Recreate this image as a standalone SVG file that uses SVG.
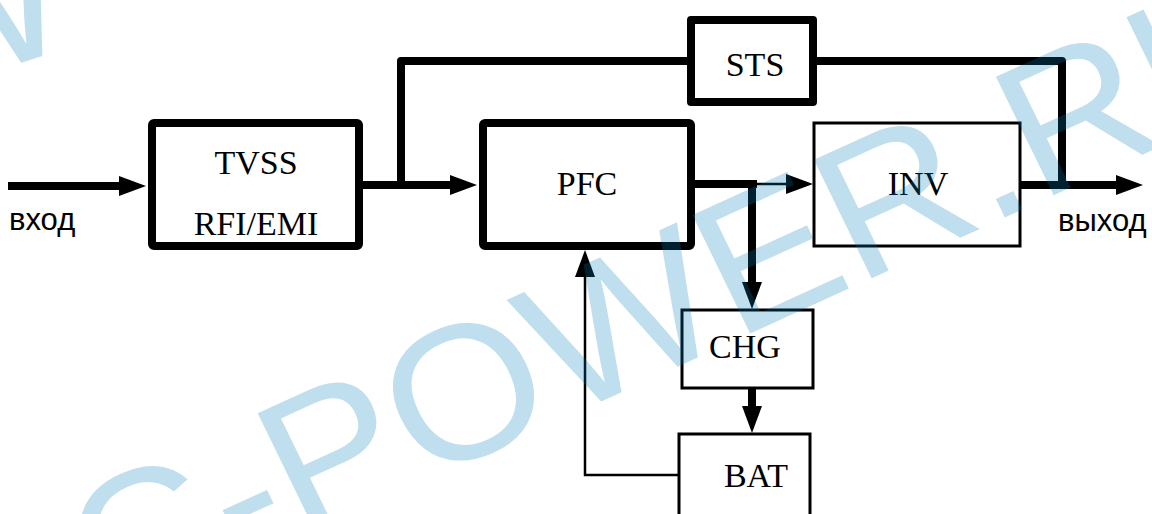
<svg xmlns="http://www.w3.org/2000/svg" width="1152" height="514" viewBox="0 0 1152 514">
  <style>
    .thick { fill: #ffffff; stroke: #000000; stroke-width: 8; stroke-linejoin: round; }
    .thin { fill: #ffffff; stroke: #000000; stroke-width: 3; }
    .lbl { font-family: "Liberation Serif", "Times New Roman", serif; font-size: 34px; fill: #000000; text-anchor: middle; }
    .io { font-family: "Liberation Sans", Arial, sans-serif; font-size: 31px; fill: #000000; }
    .w8 { fill: none; stroke: #000000; stroke-width: 8; stroke-linejoin: round; }
    .w2 { fill: none; stroke: #000000; stroke-width: 2.5; }
    .wm { font-family: "Liberation Sans", Arial, sans-serif; font-size: 200px; fill: #007dbc; fill-opacity: 0.25; }
  </style>
  <defs>
    <marker id="ah" markerUnits="userSpaceOnUse" markerWidth="27" markerHeight="20" refX="2" refY="10" orient="auto" overflow="visible">
      <path d="M0,0 L27,10 L0,20 Z" fill="#000000"/>
    </marker>
  </defs>
  <rect width="1152" height="514" fill="#ffffff"/>

  <g id="connectors">
    <path class="w8" d="M8,186 H121" marker-end="url(#ah)"/>
    <path class="w8" d="M363,185 H452" marker-end="url(#ah)"/>
    <path class="w8" d="M401,185 V61 H687"/>
    <path class="w8" d="M817,61 H1062 V186"/>
    <path class="w8" d="M695,184 H757"/>
    <path class="w2" d="M752,184 H788" marker-end="url(#ah)"/>
    <path class="w8" d="M752,180 V284" marker-end="url(#ah)"/>
    <path class="w8" d="M1020,185 H1118" marker-end="url(#ah)"/>
    <path class="w8" d="M752,388 V408" marker-end="url(#ah)"/>
    <path class="w2" d="M678,475 H585 V275" marker-end="url(#ah)"/>
  </g>

  <g id="tvss">
    <rect class="thick" x="152" y="123" width="207" height="123" rx="2"/>
    <text class="lbl" x="256" y="174">TVSS</text>
    <text class="lbl" x="256" y="235">RFI/EMI</text>
  </g>
  <g id="sts">
    <rect class="thick" x="691" y="20" width="122" height="82"/>
    <text class="lbl" x="755" y="76">STS</text>
  </g>
  <g id="pfc">
    <rect class="thick" x="483" y="123" width="208" height="123" rx="2"/>
    <text class="lbl" x="587" y="195">PFC</text>
  </g>
  <g id="inv">
    <rect class="thin" x="814" y="123" width="206" height="123"/>
    <text class="lbl" x="918" y="195">INV</text>
  </g>
  <g id="chg">
    <rect class="thin" x="682" y="310" width="131" height="78"/>
    <text class="lbl" x="745" y="358">CHG</text>
  </g>
  <g id="bat">
    <rect class="thin" x="679" y="434" width="131" height="100"/>
    <text class="lbl" x="756" y="487">BAT</text>
  </g>
  <g id="input-label">
    <text class="io" x="9" y="230">вход</text>
  </g>
  <g id="output-label">
    <text class="io" x="1058" y="231">выход</text>
  </g>

  <g id="watermark">
    <text class="wm" transform="matrix(0.910,-0.415,0.42,0.86,58,649.2)">IC-POWER.RU</text>
    <text class="wm" transform="translate(-98,101.5) rotate(-18)">W</text>
  </g>
</svg>
